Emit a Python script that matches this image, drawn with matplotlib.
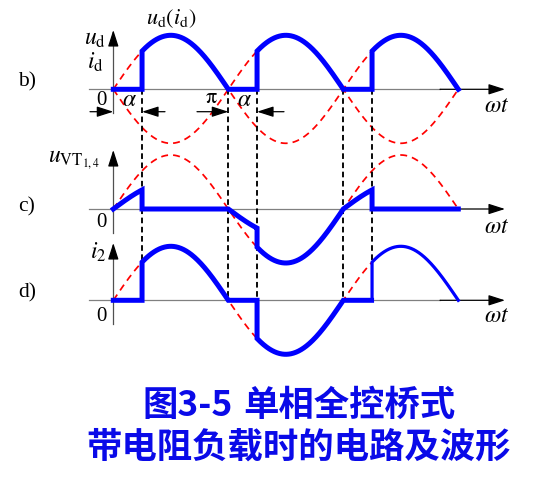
import numpy as np
import matplotlib
matplotlib.use('Agg')
import matplotlib.pyplot as plt

# Parámetros del rectificador (semiciclos 0..3π)
ALPHA = np.pi / 4                       # ángulo de disparo
N_HALF = 3                              # número de semiciclos dibujados
FIRE = [k * np.pi + ALPHA for k in range(N_HALF)]
ZEROS = [k * np.pi for k in range(N_HALF + 1)]

# Textos
PANEL_LABELS = ['b)', 'c)', 'd)']
TITLE_1A = '图3-5'
TITLE_1B = '单相全控桥式'
TITLE_2 = '带电阻负载时的电路及波形'

# Geometría en píxeles (figura 544x490)
W, H, DPI = 544, 490, 100
X0_PX = 113.3                 # posición de ωt = 0
PX_PER_RAD = 115.0 / np.pi    # π ocupa 115 px
AMP = 54.0                    # amplitud en px
BASE = {'b': 89.3, 'c': 209.0, 'd': 300.3}

BLUE = '#0000ff'
RED = '#ff0000'
TITLE_BLUE = '#0a0ae8'

plt.rcParams['mathtext.fontset'] = 'stix'
plt.rcParams['font.family'] = ['Liberation Serif', 'DejaVu Serif']


def xr(px):
    """px horizontal -> radianes"""
    return (px - X0_PX) / PX_PER_RAD


def segmentos(func_on, func_off):
    """Construye la forma de onda por semiciclos con saltos exactos en el disparo."""
    xs, ys = [], []
    for k in range(N_HALF):
        a0, a1, a2 = ZEROS[k], FIRE[k], ZEROS[k + 1]
        t_off = np.linspace(a0, a1, 60)
        t_on = np.linspace(a1, a2, 200)
        xs += list(t_off) + list(t_on)
        ys += list(func_off(k, t_off)) + list(func_on(k, t_on))
    return np.array(xs), np.array(ys)


fig = plt.figure(figsize=(W / DPI, H / DPI), dpi=DPI)
ax = fig.add_axes([0, 0, 1, 1])
ax.set_xlim(xr(0), xr(W))
ax.set_ylim(H, 0)
ax.axis('off')

t = np.linspace(0, N_HALF * np.pi, 600)
s = np.sin(t)

arrow_kw = dict(arrowstyle='-|>,head_length=1.0,head_width=0.32',
                color='k', lw=0.9, shrinkA=0, shrinkB=0, mutation_scale=10)

# Ejes de cada panel
for key, ytop, ybot in [('b', 30, 113), ('c', 150, 233), ('d', 243, 324)]:
    y0 = BASE[key]
    ax.plot([xr(89), xr(440)], [y0, y0], color='#808080', lw=0.9, zorder=1)
    ax.annotate('', xy=(xr(505), y0), xytext=(xr(440), y0), arrowprops=arrow_kw, zorder=1)
    ax.plot([0, 0], [ybot, ytop + 10], color='#505050', lw=0.9, zorder=1)
    ax.annotate('', xy=(0, ytop), xytext=(0, ytop + 12), arrowprops=arrow_kw, zorder=1)

# Curvas de referencia u2 (rojo discontinuo)
red_kw = dict(color=RED, lw=1.25, ls=(0, (4.0, 2.9)), zorder=2)
ax.plot(t, BASE['b'] - AMP * s, **red_kw)
ax.plot(t, BASE['b'] + AMP * s, **red_kw)
ax.plot(t, BASE['c'] - AMP * s, **red_kw)
ax.plot(t, BASE['d'] - AMP * s, **red_kw)

# b) ud (id)
xb, yb = segmentos(lambda k, x: np.abs(np.sin(x)), lambda k, x: 0 * x)
ax.plot(xb, BASE['b'] - AMP * yb, color=BLUE, lw=3.6, solid_joinstyle='miter', zorder=4)

# c) uVT1,4
def uvt_on(k, x):
    return np.sin(x) if k % 2 == 1 else 0 * x

def uvt_off(k, x):
    return 0.5 * np.sin(x)

xc, yc = segmentos(uvt_on, uvt_off)
ax.plot(xc, BASE['c'] - AMP * yc, color=BLUE, lw=3.6, solid_joinstyle='miter', zorder=4)

# d) i2
xd, yd = segmentos(lambda k, x: np.sin(x), lambda k, x: 0 * x)
last = xd >= FIRE[-1]
ax.plot(xd[~last], BASE['d'] - AMP * yd[~last], color=BLUE, lw=3.6,
        solid_joinstyle='miter', zorder=4)
ax.plot(np.r_[xd[~last][-1], xd[last]], BASE['d'] - AMP * np.r_[0, yd[last]],
        color=BLUE, lw=2.3, zorder=4)

# Líneas verticales de disparo / paso por cero
for xv in [FIRE[0], ZEROS[1], FIRE[1], ZEROS[2], FIRE[2]]:
    ax.plot([xv, xv], [BASE['b'], BASE['d']], color='k', lw=1.35,
            ls=(0, (3.0, 1.9)), zorder=3)

# Cotas de α y π
ya = 111.7
ax.annotate('', xy=(0, ya), xytext=(xr(90), ya), arrowprops=arrow_kw)
ax.annotate('', xy=(FIRE[0], ya), xytext=(xr(165), ya), arrowprops=arrow_kw)
ax.annotate('', xy=(ZEROS[1], ya), xytext=(xr(197), ya), arrowprops=arrow_kw)
ax.annotate('', xy=(FIRE[1], ya), xytext=(xr(284), ya), arrowprops=arrow_kw)

def txt(xp, yp, s, size=14, **kw):
    ax.text(xr(xp), yp, s, fontsize=size, ha='center', va='center', **kw)

txt(101, 100, '0', 15)
txt(129, 100, r'$\alpha$', 17)
txt(244, 100, r'$\alpha$', 17)
txt(211, 98, r'$\mathrm{\pi}$', 16)

for lab, yp in zip(PANEL_LABELS, [82, 207, 293]):
    txt(27, yp, lab, 15.5)
txt(101, 222, '0', 15)
txt(101, 316, '0', 15)

txt(95, 40, r'$u_\mathrm{d}$', 17)
txt(95, 62, r'$i_\mathrm{d}$', 17)
txt(171, 19, r'$u_\mathrm{d}(i_\mathrm{d})$', 16)
ax.text(xr(48), 160, r'$u_{\mathrm{VT}_{1,4}}$', fontsize=17, ha='left', va='center')
txt(98, 252, r'$i_2$', 17)
for yp in [106, 227, 316]:
    txt(497, yp, r'$\omega t$', 17)

# Título
title_kw = dict(fontsize=25.5, color=TITLE_BLUE, fontweight='bold',
                family=['Noto Sans CJK SC', 'DejaVu Sans'], va='center')
ax.text(xr(142), 405, TITLE_1A, ha='left', **title_kw)
ax.text(xr(243), 405, TITLE_1B, ha='left', **title_kw)
ax.text(xr(299), 447, TITLE_2, ha='center', **title_kw)

fig.savefig('out.png', dpi=DPI)
